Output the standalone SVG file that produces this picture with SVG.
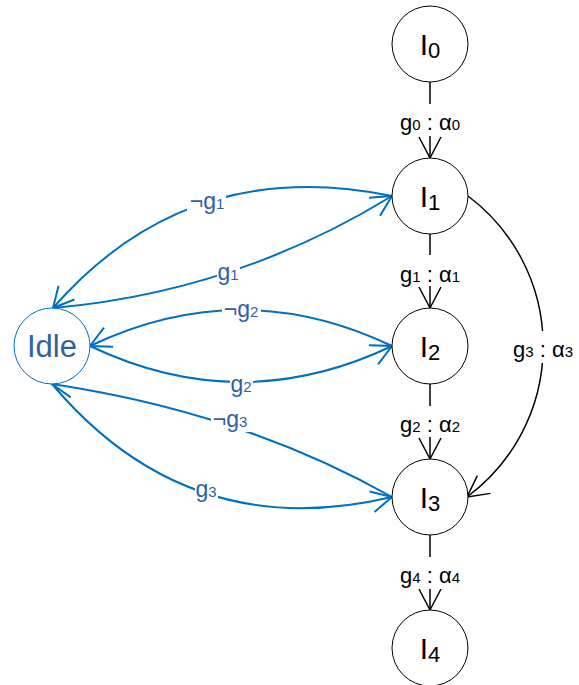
<svg xmlns="http://www.w3.org/2000/svg" width="579" height="685" viewBox="0 0 579 685">
  <defs>
    <style>
      text { font-family: "Liberation Sans", Arial, sans-serif; }
      .node circle { fill: #fff; stroke: #000; stroke-width: 1; }
      .node.idle circle { stroke: #0070C0; }
      .nl { font-size: 30px; fill: #000; text-anchor: middle; }
      .ns { font-size: 22px; }
      .idle-t { font-size: 31px; fill: #2F5FA7; text-anchor: middle; }
      .ek { fill: none; stroke: #000; stroke-width: 1.5; marker-end: url(#ah-k); }
      .eb { fill: none; stroke: #0070C0; stroke-width: 2; marker-end: url(#ah-b); }
      .bg { fill: #fff; }
      .lk { font-size: 22px; fill: #000; text-anchor: middle; }
      .lb { font-size: 23px; fill: #2F5FA7; text-anchor: middle; }
      .sub { font-size: 15px; }
    </style>
    <marker id="ah-k" markerUnits="userSpaceOnUse" markerWidth="30" markerHeight="30" viewBox="-25 -15 30 30" refX="0" refY="0" orient="auto" overflow="visible">
      <path d="M-21,-11 L0,0 L-21,11" fill="none" stroke="#000" stroke-width="1.5"/>
    </marker>
    <marker id="ah-b" markerUnits="userSpaceOnUse" markerWidth="30" markerHeight="30" viewBox="-25 -15 30 30" refX="0" refY="0" orient="auto" overflow="visible">
      <path d="M-20.5,-10.5 L0,0 L-20.5,10.5" fill="none" stroke="#0070C0" stroke-width="2"/>
    </marker>
  </defs>

  <rect width="579" height="685" fill="#fff"/>

  <g id="connectors">
    <!-- main chain -->
    <path class="ek" d="M430,81.5 L430,158"/>
    <path class="ek" d="M430,234 L430,308"/>
    <path class="ek" d="M430,384 L430,459"/>
    <path class="ek" d="M430,535 L430,610"/>
    <!-- skip edge I1 -> I3 -->
    <path class="ek" d="M468,196 A187.5,187.5 0 0 1 467,497"/>

    <!-- idle transitions -->
    <path class="eb" d="M392,196 Q187.5,154 53,308"/>
    <path class="eb" d="M53,308 Q235.5,292 392,196"/>
    <path class="eb" d="M392,346 Q241,274 90,346"/>
    <path class="eb" d="M90,346 Q241,418 392,346"/>
    <path class="eb" d="M392,497 Q242,412.5 52,384"/>
    <path class="eb" d="M52,384 Q188,545.5 392,497"/>

    <!-- chain labels -->
    <rect class="bg" x="396" y="104" width="68" height="32"/>
    <text class="lk" x="430" y="130">g<tspan class="sub">0</tspan> : α<tspan class="sub">0</tspan></text>
    <rect class="bg" x="396" y="255" width="68" height="31"/>
    <text class="lk" x="430" y="282">g<tspan class="sub">1</tspan> : α<tspan class="sub">1</tspan></text>
    <rect class="bg" x="396" y="406" width="68" height="31"/>
    <text class="lk" x="430" y="432">g<tspan class="sub">2</tspan> : α<tspan class="sub">2</tspan></text>
    <rect class="bg" x="396" y="557" width="68" height="32"/>
    <text class="lk" x="430" y="583">g<tspan class="sub">4</tspan> : α<tspan class="sub">4</tspan></text>
    <rect class="bg" x="511" y="331" width="64" height="32"/>
    <text class="lk" x="543" y="357">g<tspan class="sub">3</tspan> : α<tspan class="sub">3</tspan></text>

    <!-- idle transition labels -->
    <rect class="bg" x="187" y="194" width="39" height="20"/>
    <text class="lb" x="207" y="209">¬g<tspan class="sub">1</tspan></text>
    <rect class="bg" x="217" y="265" width="23" height="20"/>
    <text class="lb" x="228" y="280">g<tspan class="sub">1</tspan></text>
    <rect class="bg" x="222" y="302" width="39" height="20"/>
    <text class="lb" x="241" y="317">¬g<tspan class="sub">2</tspan></text>
    <rect class="bg" x="230" y="377" width="23" height="20"/>
    <text class="lb" x="241" y="392">g<tspan class="sub">2</tspan></text>
    <rect class="bg" x="211" y="412" width="39" height="20"/>
    <text class="lb" x="230" y="427">¬g<tspan class="sub">3</tspan></text>
    <rect class="bg" x="195" y="482" width="23" height="20"/>
    <text class="lb" x="206" y="497">g<tspan class="sub">3</tspan></text>
  </g>

  <g id="node-I0" class="node">
    <circle cx="430" cy="44" r="38"/>
    <text class="nl" x="430" y="55">I<tspan class="ns" dy="3">0</tspan></text>
  </g>
  <g id="node-I1" class="node">
    <circle cx="430" cy="196" r="38"/>
    <text class="nl" x="430" y="207">I<tspan class="ns" dy="3">1</tspan></text>
  </g>
  <g id="node-I2" class="node">
    <circle cx="430" cy="346" r="38"/>
    <text class="nl" x="430" y="357">I<tspan class="ns" dy="3">2</tspan></text>
  </g>
  <g id="node-I3" class="node">
    <circle cx="430" cy="497" r="38"/>
    <text class="nl" x="430" y="508">I<tspan class="ns" dy="3">3</tspan></text>
  </g>
  <g id="node-I4" class="node">
    <circle cx="430" cy="648" r="38"/>
    <text class="nl" x="430" y="659">I<tspan class="ns" dy="3">4</tspan></text>
  </g>
  <g id="node-Idle" class="node idle">
    <circle cx="52" cy="346" r="38"/>
    <text class="idle-t" x="52" y="357">Idle</text>
  </g>
</svg>
